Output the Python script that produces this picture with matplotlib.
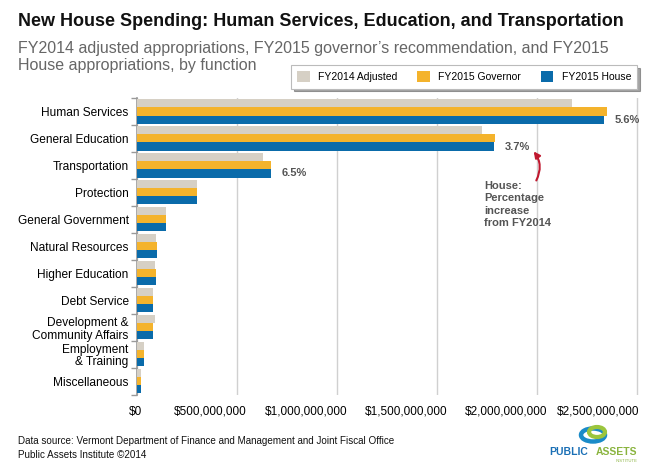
import matplotlib.pyplot as plt
import matplotlib.transforms as mtransforms
from matplotlib.patches import Ellipse

plt.rcParams['font.family'] = ['Liberation Sans', 'DejaVu Sans']

categories = ["Human Services", "General Education", "Transportation", "Protection",
              "General Government", "Natural Resources", "Higher Education", "Debt Service",
              "Development &\nCommunity Affairs", "Employment\n& Training", "Miscellaneous"]
fy2014 = [2.175e9, 1.723e9, 0.632e9, 0.300e9, 0.143e9, 0.095e9, 0.090e9, 0.080e9, 0.090e9, 0.035e9, 0.020e9]
fy2015_gov = [2.350e9, 1.790e9, 0.668e9, 0.302e9, 0.145e9, 0.100e9, 0.095e9, 0.080e9, 0.080e9, 0.035e9, 0.020e9]
fy2015_house = [2.335e9, 1.783e9, 0.668e9, 0.302e9, 0.145e9, 0.100e9, 0.095e9, 0.080e9, 0.080e9, 0.035e9, 0.022e9]
pct_labels = {0: "5.6%", 1: "3.7%", 2: "6.5%"}
xticks = [0, 5e8, 1e9, 1.5e9, 2e9, 2.5e9]
xtick_labels = ["$0", "$500,000,000", "$1,000,000,000", "$1,500,000,000", "$2,000,000,000", "$2,500,000,000"]

c14 = "#D6D0C5"
cgov = "#F4B32C"
chouse = "#0A6BAA"
gray = "#555555"

fig = plt.figure(figsize=(6.55, 4.75), dpi=100)
ax = fig.add_axes([137/655, 1-394.5/475, 504/655, 296.5/475])

y = list(range(len(categories)))
h = 0.3
ax.barh([i - 0.3 for i in y], fy2014, height=h, color=c14, label="FY2014 Adjusted", zorder=3)
ax.barh(y, fy2015_gov, height=h, color=cgov, label="FY2015 Governor", zorder=3)
ax.barh([i + 0.3 for i in y], fy2015_house, height=h, color=chouse, label="FY2015 House", zorder=3)

for i, txt in pct_labels.items():
    ax.text(fy2015_house[i] + 5.5e7, i + 0.3, txt, fontsize=8, fontweight='bold',
            color=gray, va='center', ha='left')

ax.set_ylim(len(categories) - 0.5, -0.5)
ax.set_xlim(0, 2.52e9)
ax.set_yticks(y)
ax.set_yticklabels(categories, fontsize=8.6, linespacing=1.1)
ax.set_yticks([i + 0.5 for i in range(-1, len(categories))], minor=True)
ax.tick_params(axis='y', which='major', length=0, pad=6)
ax.tick_params(axis='y', which='minor', length=4, color='#999999', width=1)
ax.set_xticks(xticks)
ax.set_xticklabels(xtick_labels, fontsize=8.5)
ax.tick_params(axis='x', length=0, pad=8)
# labels sit right-aligned just past each gridline, like the original
for k, lab in enumerate(ax.get_xticklabels()):
    if k == 0:
        lab.set_transform(lab.get_transform() + mtransforms.ScaledTranslation(-2/100, 0, fig.dpi_scale_trans))
    else:
        off = 2 if k == len(xticks) - 1 else 10
        lab.set_ha('right')
        lab.set_transform(lab.get_transform() + mtransforms.ScaledTranslation(off/100, 0, fig.dpi_scale_trans))
ax.grid(axis='x', color='#D0D0D0', linewidth=1, zorder=0)
for s in ['top', 'right', 'bottom']:
    ax.spines[s].set_visible(False)
ax.spines['left'].set_color('#999999')
ax.spines['left'].set_linewidth(1.2)

# annotation
ax.annotate("", xy=(1.975e9, 1.4), xytext=(1.99e9, 2.65),
            arrowprops=dict(arrowstyle='-|>', color='#C0182F', lw=1.5,
                            connectionstyle='arc3,rad=0.35', mutation_scale=9))
ax.text(1.735e9, 2.58, "House:\nPercentage\nincrease\nfrom FY2014", fontsize=8,
        fontweight='bold', color=gray, va='top', ha='left', linespacing=1.3)

leg = ax.legend(loc='upper left', bbox_to_anchor=(286/655, 1-60/475), bbox_transform=fig.transFigure,
                ncol=3, fontsize=7.5, frameon=True, fancybox=False, shadow=True,
                handlelength=1.2, handleheight=1.2, columnspacing=1.9, borderpad=0.6)
leg.get_frame().set_edgecolor('#BBBBBB')
leg.get_frame().set_linewidth(0.8)

fig.text(18/655, 1-22/475, "New House Spending: Human Services, Education, and Transportation",
         fontsize=13, fontweight='bold', color='#111111', va='center')
fig.text(18/655, 1-57/475, "FY2014 adjusted appropriations, FY2015 governor\u2019s recommendation, and FY2015\nHouse appropriations, by function",
         fontsize=11.5, color='#666666', va='center', linespacing=1.1)
fig.text(18/655, 1-441/475, "Data source: Vermont Department of Finance and Management and Joint Fiscal Office",
         fontsize=7.1, color='#111111', va='center')
fig.text(18/655, 1-455/475, "Public Assets Institute \u00a92014", fontsize=7.1, color='#111111', va='center')

# logo
fig.text(549/655, 1-452/475, "PUBLIC", fontsize=7.5, fontweight='bold', color='#1A6FB5',
         ha='left', va='center')
fig.text(637/655, 1-452/475, "ASSETS", fontsize=7.5, fontweight='bold', color='#8AB43F',
         ha='right', va='center')
fig.text(637/655, 1-461/475, "INSTITUTE", fontsize=3, color='#8AB43F', ha='right', va='center')
lax = fig.add_axes([572/655, 1-446/475, 45/655, 25/475])
lax.set_xlim(0, 45)
lax.set_ylim(0, 25)
lax.axis('off')
lax.add_patch(Ellipse((21, 11), 24, 13, facecolor='none', edgecolor='#1A8BC8', lw=3.2))
lax.add_patch(Ellipse((25, 14), 16, 10, facecolor='none', edgecolor='#9BC53D', lw=3))

fig.savefig("out.png", dpi=100)
